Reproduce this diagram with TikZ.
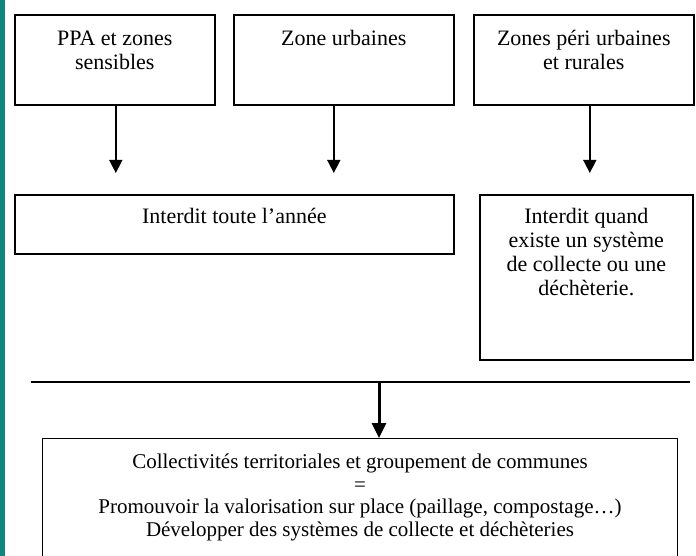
\documentclass[tikz,border=0pt]{standalone}
\usepackage{fontspec}
\setmainfont{Liberation Serif}
\usetikzlibrary{arrows.meta,positioning}
\definecolor{sideteal}{RGB}{16,134,126}
\tikzstyle{box} = [draw, line width=1.6pt, anchor=north west, inner sep=0pt]
\tikzstyle{txt} = [align=center, inner sep=0pt, font=\fontsize{22}{24}\selectfont]
\tikzstyle{arrow} = [line width=1.5pt,-{Triangle[length=13pt,width=13pt]}]
\tikzstyle{bigarrow} = [line width=3pt,-{Triangle[length=15pt,width=14pt]}]

\begin{document}
\begin{tikzpicture}[x=1pt, y=1pt]
\useasboundingbox (0,0) rectangle (696,-556);
\clip (0,0) rectangle (696,-556);
% side bar
\fill[sideteal] (0,0) rectangle (5,-556);

% Zones
\node[box, minimum width=200pt, minimum height=90pt] (ppa) at (14,-14) {};
\node[box, minimum width=220pt, minimum height=90pt] (urb) at (233,-14) {};
\node[box, minimum width=220pt, minimum height=90pt] (peri) at (473,-14) {};
\node[txt, below=17pt of ppa.north] (ppatxt) {PPA et zones\\sensibles};
\node[txt, below=16pt of urb.north] (urbtxt) {Zone urbaines};
\node[txt, below=16pt of peri.north] (peritxt) {Zones péri urbaines\\et rurales};

% Rules
\node[box, minimum width=439pt, minimum height=59pt] (interdit) at (14,-194) {};
\node[box, minimum width=213pt, minimum height=165pt] (quand) at (479,-194) {};
\node[txt, below=14pt of interdit.north] (interdittxt) {Interdit toute l’année};
\node[txt, below=14pt of quand.north] (quandtxt) {Interdit quand\\existe un système\\de collecte ou une\\déchèterie.};

\draw[arrow, shorten >=21pt] ([xshift=1pt]ppa.south) -- ([xshift=1pt]ppa.south |- interdit.north);
\draw[arrow, shorten >=21pt] ([xshift=-10pt]urb.south) -- ([xshift=-10pt]urb.south |- interdit.north);
\draw[arrow, shorten >=21pt] ([xshift=6pt]peri.south) -- ([xshift=6pt]peri.south |- quand.north);

% Collectivites
\node[box, line width=1pt, minimum width=635pt, minimum height=140pt] (collect) at (42,-438) {};
\node[txt, font=\fontsize{21}{22.5}\selectfont, below=16pt of collect.north] (collecttxt)
  {Collectivités territoriales et groupement de communes\\=\\Promouvoir la valorisation sur place (paillage, compostage…)\\Développer des systèmes de collecte et déchèteries};

\coordinate (lineL) at (31,-382);
\coordinate (lineR) at (690,-382);
\coordinate (split) at (379,-382);
\draw[line width=2.5pt] (lineL) -- (lineR);
\draw[bigarrow] (split) -- (split |- collect.north);
\end{tikzpicture}
\end{document}
